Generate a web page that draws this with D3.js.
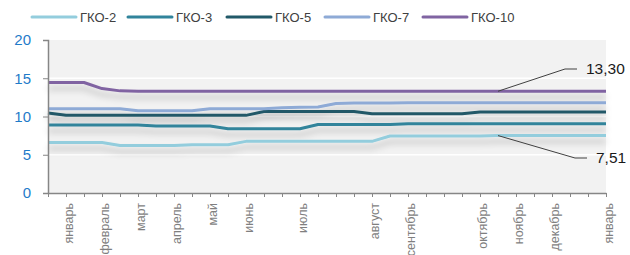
<!DOCTYPE html>
<html>
<head>
<meta charset="utf-8">
<script src="https://cdn.jsdelivr.net/npm/d3@7"></script>
<style>
  body { margin: 0; background: #fff; }
  svg { display: block; font-family: "Liberation Sans", Arial, sans-serif; }
</style>
</head>
<body>
<svg id="chart"></svg>
<script>
// data (weekly points, 32 per series)
var xLabels = ["", "январь", "", "февраль", "", "март", "", "апрель", "", "май", "", "июнь", "", "", "июль", "",
               "", "", "август", "", "сентябрь", "", "", "", "октябрь", "", "ноябрь", "", "декабрь", "", "", "январь"];

var gko2  = [6.6, 6.6, 6.6, 6.6, 6.2, 6.2, 6.2, 6.2, 6.3, 6.3, 6.3, 6.75, 6.75, 6.75, 6.75, 6.75,
             6.75, 6.75, 6.75, 7.45, 7.45, 7.45, 7.45, 7.45, 7.45, 7.51, 7.51, 7.51, 7.51, 7.51, 7.51, 7.51];
var gko3  = [8.9, 8.9, 8.9, 8.9, 8.9, 8.9, 8.75, 8.75, 8.75, 8.75, 8.4, 8.4, 8.4, 8.4, 8.4, 8.95,
             8.95, 8.95, 8.95, 8.95, 9.05, 9.05, 9.05, 9.05, 9.05, 9.05, 9.05, 9.05, 9.05, 9.05, 9.05, 9.05];
var gko5  = [10.45, 10.15, 10.15, 10.15, 10.15, 10.15, 10.15, 10.15, 10.15, 10.15, 10.15, 10.15, 10.65, 10.65, 10.65, 10.65,
             10.65, 10.65, 10.35, 10.35, 10.35, 10.35, 10.35, 10.35, 10.6, 10.6, 10.6, 10.6, 10.6, 10.6, 10.6, 10.6];
var gko7  = [11.0, 11.0, 11.0, 11.0, 11.0, 10.75, 10.75, 10.75, 10.75, 11.0, 11.0, 11.0, 11.0, 11.15, 11.2, 11.25,
             11.7, 11.75, 11.75, 11.75, 11.8, 11.8, 11.8, 11.8, 11.8, 11.8, 11.8, 11.8, 11.8, 11.8, 11.8, 11.8];
var gko10 = [14.45, 14.45, 14.45, 13.65, 13.35, 13.3, 13.3, 13.3, 13.3, 13.3, 13.3, 13.3, 13.3, 13.3, 13.3, 13.3,
             13.3, 13.3, 13.3, 13.3, 13.3, 13.3, 13.3, 13.3, 13.3, 13.3, 13.3, 13.3, 13.3, 13.3, 13.3, 13.3];

var seriesNames = ["ГКО-2", "ГКО-3", "ГКО-5", "ГКО-7", "ГКО-10"];
var yTicks = [0, 5, 10, 15, 20];

var series = [
  {name: seriesNames[0], values: gko2,  color: "#93cddd"},
  {name: seriesNames[1], values: gko3,  color: "#31849b"},
  {name: seriesNames[2], values: gko5,  color: "#215968"},
  {name: seriesNames[3], values: gko7,  color: "#8eaad6"},
  {name: seriesNames[4], values: gko10, color: "#8064a2"}
];

var width = 630, height = 255;
var margin = {left: 48, right: 24, top: 40, bottom: 62};

var svg = d3.select("#chart").attr("width", width).attr("height", height);

var defs = svg.append("defs");
var f = defs.append("filter").attr("id", "shadow")
  .attr("x", "-5%").attr("y", "-50%").attr("width", "110%").attr("height", "300%");
f.append("feDropShadow").attr("dx", 0).attr("dy", 6).attr("stdDeviation", 3)
  .attr("flood-color", "#000").attr("flood-opacity", 0.22);

var xScale = d3.scalePoint()
  .domain(d3.range(gko2.length))
  .range([margin.left, width - margin.right]);

var yScale = d3.scaleLinear()
  .domain([0, 20])
  .range([height - margin.bottom, margin.top]);

// plot area background
svg.append("rect")
  .attr("x", margin.left).attr("y", margin.top)
  .attr("width", width - margin.right - margin.left)
  .attr("height", yScale(0) - margin.top)
  .attr("fill", "#f2f2f2");

// gridlines
svg.append("g").selectAll("line")
  .data(yTicks.filter(function(d){ return d > 0 && d < 20; }))
  .enter().append("line")
  .attr("x1", margin.left).attr("x2", width - margin.right)
  .attr("y1", function(d){ return yScale(d); })
  .attr("y2", function(d){ return yScale(d); })
  .attr("stroke", "#fff").attr("stroke-width", 1.5);

// lines
var line = d3.line()
  .x(function(d, i){ return xScale(i); })
  .y(function(d){ return yScale(d); });

svg.append("g").attr("filter", "url(#shadow)")
  .selectAll("path")
  .data(series).enter()
  .append("path")
  .attr("d", function(d){ return line(d.values); })
  .attr("fill", "none")
  .attr("stroke", function(d){ return d.color; })
  .attr("stroke-width", 3)
  .attr("stroke-linejoin", "round");

// axes
var yAxis = d3.axisLeft(yScale).tickValues(yTicks).tickSize(5).tickPadding(12);
var yG = svg.append("g").attr("transform", "translate(" + margin.left + ",0)").call(yAxis);
yG.select(".domain").attr("stroke", "#868686").attr("stroke-width", 1.5);
yG.selectAll(".tick line").attr("stroke", "#868686");
yG.selectAll(".tick text").attr("fill", "#1f7bc9").attr("font-size", 15);

var xAxis = d3.axisBottom(xScale).tickSize(4).tickSizeOuter(0)
  .tickFormat(function(i){ return xLabels[i]; });
var xG = svg.append("g").attr("transform", "translate(0," + yScale(0) + ")").call(xAxis);
xG.select(".domain").attr("stroke", "#868686").attr("stroke-width", 1.5);
xG.selectAll(".tick line").attr("stroke", "#868686");
xG.selectAll(".tick text")
  .attr("fill", "#7f7f7f").attr("font-size", 12.5)
  .attr("text-anchor", "end")
  .attr("transform", "translate(2,10) rotate(-90)")
  .attr("x", 0).attr("y", 0).attr("dy", "0.35em");

// end-value callouts
var callouts = [
  {idx: 25, value: gko10[25], text: "13,30", elbow: [565, 69], end: 577},
  {idx: 25, value: gko2[25],  text: "7,51",  elbow: [575, 158], end: 587}
];
var cg = svg.append("g");
callouts.forEach(function(c){
  cg.append("polyline")
    .attr("points", [[xScale(c.idx), yScale(c.value)], c.elbow, [c.end, c.elbow[1]]].join(" "))
    .attr("fill", "none").attr("stroke", "#404040").attr("stroke-width", 1);
  cg.append("text")
    .attr("x", c.end + 9).attr("y", c.elbow[1]).attr("dy", "0.35em")
    .attr("font-size", 15.5).attr("fill", "#1a1a1a")
    .text(c.text);
});

// legend
var legendX = [32, 128, 227, 325, 423];
var legend = svg.append("g").selectAll("g")
  .data(series).enter().append("g")
  .attr("transform", function(d, i){ return "translate(" + legendX[i] + ",17)"; });
legend.append("line")
  .attr("x1", 0).attr("x2", 44)
  .attr("stroke", function(d){ return d.color; })
  .attr("stroke-width", 3).attr("stroke-linecap", "round");
legend.append("text")
  .attr("x", 48).attr("dy", "0.35em")
  .attr("font-family", "'Liberation Sans Narrow', 'Liberation Sans', sans-serif")
  .attr("font-size", 13).attr("fill", "#404040")
  .text(function(d){ return d.name; });
</script>
</body>
</html>
